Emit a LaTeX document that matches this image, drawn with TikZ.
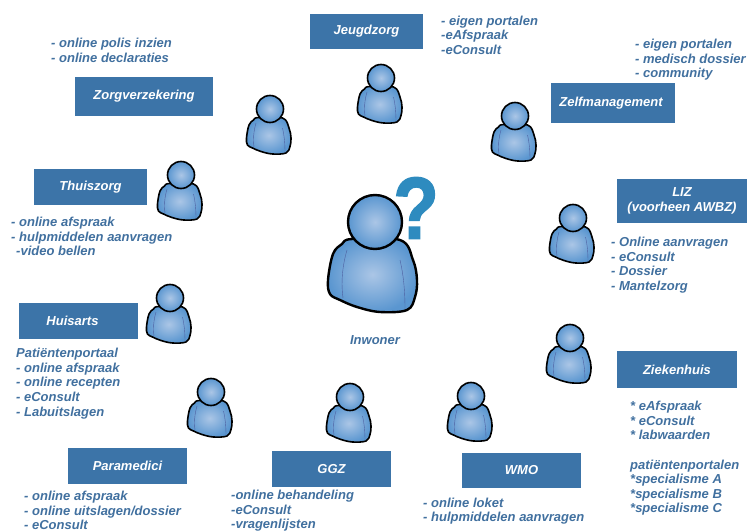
\documentclass[tikz,border=0pt]{standalone}
\usepackage{fontspec}
\setmainfont{Liberation Sans}
\newfontfamily\askfont[FakeBold=1.6]{Liberation Sans Bold}
\usetikzlibrary{shadings}

\definecolor{boxblue}{HTML}{3C74A8}
\definecolor{textblue}{HTML}{41709F}
\definecolor{askblue}{HTML}{2E8BBF}
\definecolor{bodyin}{HTML}{ABC6E6}
\definecolor{bodyout}{HTML}{5A96D0}
\definecolor{armline}{HTML}{4D5FA0}

\tikzset{
  orgbox/.style={fill=boxblue, text=white, inner sep=0pt,
    font=\fontsize{13}{15}\selectfont\bfseries\itshape, align=center},
  itemlist/.style={text=textblue, anchor=north west, inner sep=0pt, align=left,
    font=\fontsize{13}{14.6}\selectfont\bfseries\itshape},
  person/.pic={
    % body
    \draw[inner color=bodyin, outer color=bodyout, line join=round]
      plot[smooth cycle, tension=0.6] coordinates {
      (-23,17) (-33,22) (-42,32) (-47,58) (-45,72) (-35,78) (-18,85) (5,90)
      (32,88) (40,75) (42,58) (38,38) (25,18)
      };
    % arms
    \draw[armline, line width=0.4pt] (-28,28) .. controls (-33,45) and (-34,62) .. (-32,76);
    \draw[armline, line width=0.4pt] (25,38) .. controls (29,55) and (30,72) .. (30,87);
    % head
    \draw[inner color=bodyin, outer color=bodyout] (0,0) circle (27);
  }
}

\begin{document}
\begin{tikzpicture}[x=1pt, y=-1pt]
\useasboundingbox (0,0) rectangle (747,532);

% persons round the centre
\foreach \px/\py in {381/78, 515/116, 270/109, 181/175, 573/218,
  570/338, 170/298, 211/392, 350/397, 471/396}
  \pic[scale=0.5, line width=1.6pt] at (\px,\py) {person};

% centre
\pic[line width=2.4pt] at (375,222) {person};
\node[text=askblue, font=\fontsize{88}{88}\selectfont\askfont, inner sep=0pt, xscale=0.85] (ask) at (416,208) {?};
\node[text=textblue, font=\fontsize{13}{15}\selectfont\bfseries\itshape, inner sep=0pt] (inwoner) at (375,340) {Inwoner};

% boxes
\node[orgbox, minimum width=113pt, minimum height=35pt] (jeugdzorg) at (366.5,31.5) {Jeugdzorg};
\node[orgbox, minimum width=124pt, minimum height=40pt] (zelfmanagement) at (613,103) {Zelfmanagement\hspace{4pt}};
\node[orgbox, minimum width=138pt, minimum height=39pt] (zorgverzekering) at (144,96.5) {\raisebox{-3pt}{Zorgverzekering}};
\node[orgbox, minimum width=113pt, minimum height=36pt] (thuiszorg) at (90.5,187) {Thuiszorg};
\node[orgbox, minimum width=130pt, minimum height=44pt] (liz) at (682,201) {LIZ\\(voorheen AWBZ)};
\node[orgbox, minimum width=119pt, minimum height=36pt] (huisarts) at (78.5,321) {Huisarts\hspace{12pt}};
\node[orgbox, minimum width=120pt, minimum height=37pt] (ziekenhuis) at (677,369.5) {Ziekenhuis};
\node[orgbox, minimum width=119pt, minimum height=36pt] (paramedici) at (127.5,466) {Paramedici};
\node[orgbox, minimum width=119pt, minimum height=36pt] (ggz) at (331.5,469) {GGZ};
\node[orgbox, minimum width=119pt, minimum height=35pt] (wmo) at (521.5,470.5) {WMO};

% lists
\node[itemlist] (jeugdzorglist) at (441,15.5) {- eigen portalen\\-eAfspraak\\-eConsult};
\node[itemlist] (zelflist) at (635,39) {- eigen portalen\\- medisch dossier\\- community};
\node[itemlist] (zorglist) at (51,38) {- online polis inzien\\- online declaraties};
\node[itemlist] (thuislist) at (11,217) {- online afspraak\\- hulpmiddelen aanvragen\\\hspace*{5pt}-video bellen};
\node[itemlist] (lizlist) at (611,237) {- Online aanvragen\\- eConsult\\- Dossier\\- Mantelzorg};
\node[itemlist] (huislist) at (16,348) {Patiëntenportaal\\- online afspraak\\- online recepten\\- eConsult\\- Labuitslagen};
\node[itemlist] (ziekenlist) at (630,401) {* eAfspraak\\* eConsult\\* labwaarden\\[14.6pt]patiëntenportalen\\*specialisme A\\*specialisme B\\*specialisme C};
\node[itemlist] (paralist) at (24,491) {- online afspraak\\- online uitslagen/dossier\\- eConsult};
\node[itemlist] (ggzlist) at (231,490) {-online behandeling\\-eConsult\\-vragenlijsten};
\node[itemlist] (wmolist) at (423,497.5) {- online loket\\- hulpmiddelen aanvragen};

\end{tikzpicture}
\end{document}
